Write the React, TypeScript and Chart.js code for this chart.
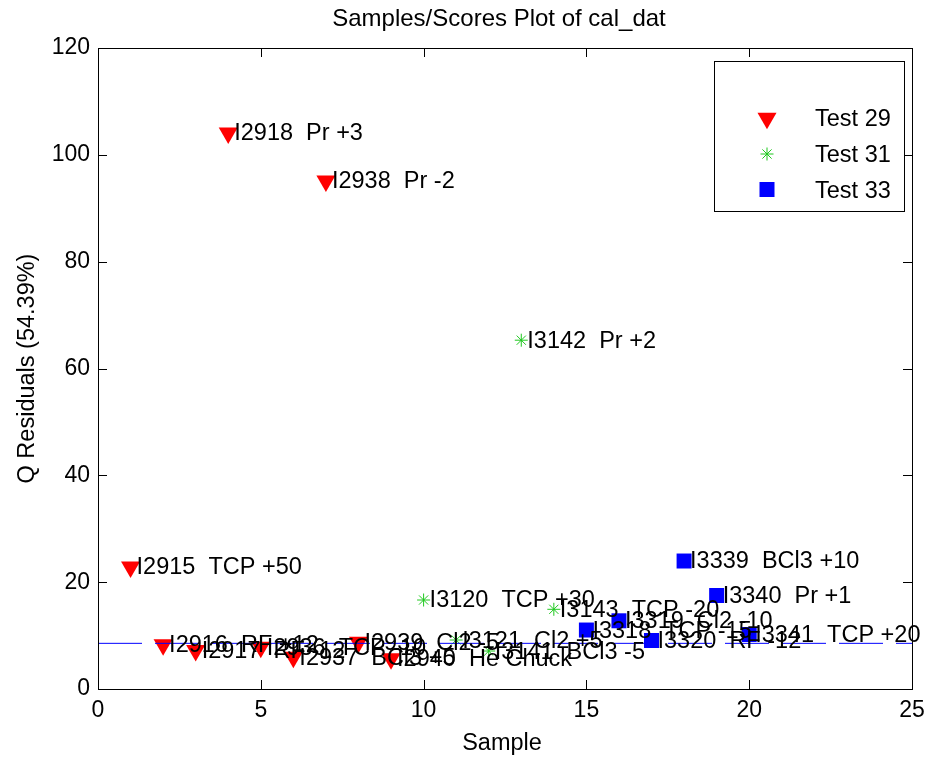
import React, { useEffect, useRef } from "react";
import { Chart, registerables } from "chart.js";

Chart.register(...registerables);

const FONT = "'Liberation Sans', Arial, sans-serif";

const test29X = [1, 2, 3, 4, 5, 6, 7, 8, 9];
const test29Y = [22.84, 8.27, 7.21, 104.1, 7.82, 5.95, 95.1, 8.76, 5.65];
const test29Labels = [
  "I2915  TCP +50",
  "I2916  RF +12",
  "I2917  RF -12",
  "I2918  Pr +3",
  "I2936  TCP -10",
  "I2937  BCl3 +5",
  "I2938  Pr -2",
  "I2939  Cl2 -5",
  "I2940  He Chuck",
];

const test31X = [10, 11, 12, 13, 14];
const test31Y = [16.66, 9.17, 7.11, 65.3, 14.92];
const test31Labels = [
  "I3120  TCP +30",
  "I3121  Cl2 +5",
  "I3141  BCl3 -5",
  "I3142  Pr +2",
  "I3143  TCP -20",
];

const test33X = [15, 16, 17, 18, 19, 20];
const test33Y = [11.04, 12.77, 9.08, 23.96, 17.5, 10.2];
const test33Labels = [
  "I3318  TCP -15",
  "I3319  Cl2 -10",
  "I3320  RF -12",
  "I3339  BCl3 +10",
  "I3340  Pr +1",
  "I3341  TCP +20",
];

const limitX = [0, 25];
const limitY = [8.55, 8.55];

const seriesNames = ["Test 29", "Test 31", "Test 33"];
const TITLE = "Samples/Scores Plot of cal_dat";
const X_TITLE = "Sample";
const Y_TITLE = "Q Residuals (54.39%)";

const RED = "#ff0000";
const GREEN = "#1ec81e";
const BLUE = "#0000ff";

function drawMarker(ctx: CanvasRenderingContext2D, kind: string, x: number, y: number) {
  ctx.save();
  if (kind === "tri") {
    const r = 11;
    ctx.fillStyle = RED;
    ctx.beginPath();
    ctx.moveTo(x, y + r);
    ctx.lineTo(x - r * Math.sin(Math.PI / 3), y - r / 2);
    ctx.lineTo(x + r * Math.sin(Math.PI / 3), y - r / 2);
    ctx.closePath();
    ctx.fill();
  } else if (kind === "star") {
    const r = 6.5;
    ctx.strokeStyle = GREEN;
    ctx.lineWidth = 1;
    ctx.beginPath();
    ctx.moveTo(x - r, y); ctx.lineTo(x + r, y);
    ctx.moveTo(x, y - r); ctx.lineTo(x, y + r);
    const d = r * Math.SQRT1_2;
    ctx.moveTo(x - d, y - d); ctx.lineTo(x + d, y + d);
    ctx.moveTo(x - d, y + d); ctx.lineTo(x + d, y - d);
    ctx.stroke();
  } else {
    ctx.fillStyle = BLUE;
    ctx.fillRect(x - 7.5, y - 7.5, 15, 15);
  }
  ctx.restore();
}

const decorPlugin = {
  id: "decor",
  afterDatasetsDraw(chart: any) {
    const { ctx, chartArea, scales } = chart;
    const { left, right, top, bottom } = chartArea;
    ctx.save();
    // point labels
    ctx.fillStyle = "#000";
    ctx.font = `23.5px ${FONT}`;
    ctx.textAlign = "left";
    ctx.textBaseline = "middle";
    const groups = [
      [test29X, test29Y, test29Labels],
      [test31X, test31Y, test31Labels],
      [test33X, test33Y, test33Labels],
    ] as any[];
    groups.forEach(([xs, ys, labs]) => {
      xs.forEach((xv: number, i: number) => {
        const px = scales.x.getPixelForValue(xv);
        const py = scales.y.getPixelForValue(ys[i]);
        ctx.fillText(labs[i], px + 6, py + 1);
      });
    });

    // frame
    ctx.strokeStyle = "#000";
    ctx.lineWidth = 1;
    ctx.strokeRect(Math.round(left) + 0.5, Math.round(top) + 0.5, Math.round(right - left), Math.round(bottom - top));
    // inward ticks
    const tl = 9;
    ctx.beginPath();
    scales.x.ticks.forEach((t: any) => {
      const px = Math.round(scales.x.getPixelForValue(t.value)) + 0.5;
      ctx.moveTo(px, bottom); ctx.lineTo(px, bottom - tl);
      ctx.moveTo(px, top); ctx.lineTo(px, top + tl);
    });
    scales.y.ticks.forEach((t: any) => {
      const py = Math.round(scales.y.getPixelForValue(t.value)) + 0.5;
      ctx.moveTo(left, py); ctx.lineTo(left + tl, py);
      ctx.moveTo(right, py); ctx.lineTo(right - tl, py);
    });
    ctx.stroke();

    // titles
    ctx.font = `24px ${FONT}`;
    ctx.textAlign = "center";
    ctx.textBaseline = "alphabetic";
    ctx.fillText(TITLE, (left + right) / 2 - 6, 26);
    ctx.font = `23.5px ${FONT}`;
    ctx.fillText(X_TITLE, (left + right) / 2 - 3, 750);
    ctx.save();
    ctx.translate(34, (top + bottom) / 2);
    ctx.rotate(-Math.PI / 2);
    ctx.fillText(Y_TITLE, 0, 0);
    ctx.restore();

    // legend
    const lx = 714.5, ly = 61.5, lw = 190, lh = 150;
    ctx.fillStyle = "#fff";
    ctx.fillRect(lx, ly, lw, lh);
    ctx.strokeStyle = "#000";
    ctx.strokeRect(lx, ly, lw, lh);
    const kinds = ["tri", "star", "sq"];
    const ys = [118.3, 154, 189.5];
    ctx.font = `23.5px ${FONT}`;
    ctx.textAlign = "left";
    ctx.textBaseline = "alphabetic";
    kinds.forEach((k, i) => {
      drawMarker(ctx, k, 767, ys[i]);
      ctx.fillStyle = "#000";
      ctx.fillText(seriesNames[i], 815, ys[i] + 8);
    });
    ctx.restore();
  },
};

export default function App() {
  const ref = useRef<HTMLCanvasElement>(null);
  useEffect(() => {
    const canvas = ref.current!;
    const toPts = (xs: number[], ys: number[]) => xs.map((x, i) => ({ x, y: ys[i] }));
    const chart = new Chart(canvas, {
      type: "scatter",
      data: {
        datasets: [
          {
            type: "line",
            label: "limit",
            data: toPts(limitX, limitY),
            borderColor: BLUE,
            borderWidth: 1,
            borderDash: [44, 13],
            pointRadius: 0,
            fill: false,
            order: 0,
          } as any,
          {
            label: seriesNames[0],
            data: toPts(test29X, test29Y),
            pointStyle: "triangle",
            rotation: 180,
            pointRadius: 11,
            backgroundColor: RED,
            borderColor: RED,
            borderWidth: 0,
            order: 1,
          },
          {
            label: seriesNames[1],
            data: toPts(test31X, test31Y),
            pointStyle: "star",
            pointRadius: 6.5,
            borderColor: GREEN,
            backgroundColor: GREEN,
            borderWidth: 1,
            order: 1,
          },
          {
            label: seriesNames[2],
            data: toPts(test33X, test33Y),
            pointStyle: "rect",
            pointRadius: 10.6,
            backgroundColor: BLUE,
            borderColor: BLUE,
            borderWidth: 0,
            order: 1,
          },
        ],
      },
      options: {
        animation: false,
        responsive: false,
        maintainAspectRatio: false,
        events: [],
        layout: { padding: { left: 0, top: 48, right: 18, bottom: 0 } },
        plugins: {
          legend: { display: false },
          title: { display: false },
          tooltip: { enabled: false },
        },
        scales: {
          x: {
            type: "linear",
            min: 0,
            max: 25,
            grid: { display: false, drawTicks: false },
            border: { display: false },
            ticks: {
              stepSize: 5,
              padding: 8,
              color: "#000",
              font: { family: FONT, size: 23 },
              maxRotation: 0,
            },
            afterFit: (s: any) => {
              s.height = 70;
              s.paddingLeft = 0; s.paddingRight = 0; s.paddingTop = 0; s.paddingBottom = 0;
            },
          },
          y: {
            type: "linear",
            min: 0,
            max: 120,
            grid: { display: false, drawTicks: false },
            border: { display: false },
            ticks: {
              stepSize: 20,
              padding: 8,
              color: "#000",
              font: { family: FONT, size: 23 },
            },
            afterFit: (s: any) => {
              s.width = 98;
              s.paddingLeft = 0; s.paddingRight = 0; s.paddingTop = 0; s.paddingBottom = 0;
            },
          },
        },
      },
      plugins: [decorPlugin],
    });
    return () => chart.destroy();
  }, []);
  return (
    <div style={{ position: "fixed", left: 0, top: 0, width: 930, height: 759, background: "#fff" }}>
      <canvas ref={ref} width={930} height={759} style={{ width: 930, height: 759, display: "block" }} />
    </div>
  );
}
